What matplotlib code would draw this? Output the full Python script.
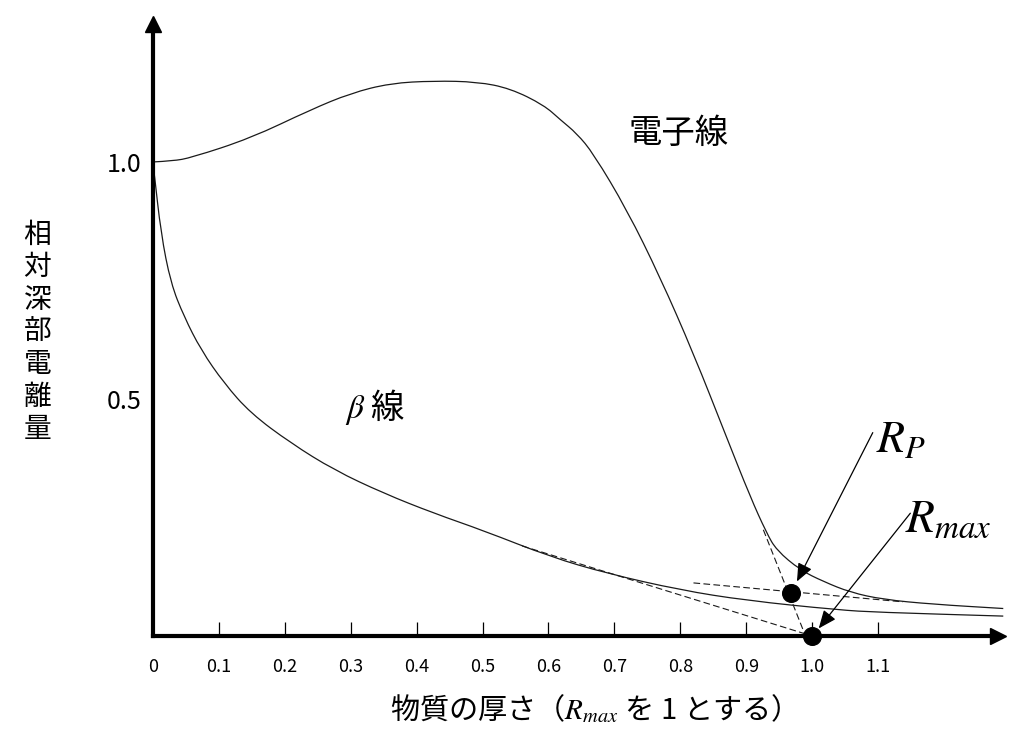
import matplotlib
matplotlib.use("Agg")
import matplotlib.pyplot as plt
from matplotlib.path import Path
from matplotlib.patches import PathPatch

plt.rcParams['font.family'] = ['Noto Sans CJK JP', 'DejaVu Sans']
plt.rcParams['mathtext.fontset'] = 'stix'

# ---- data ----
electron_x = [0.0, 0.030, 0.058, 0.148, 0.239, 0.300, 0.360, 0.426, 0.492, 0.542, 0.593,
              0.618, 0.643, 0.668, 0.719, 0.769, 0.820, 0.870, 0.906, 0.931, 0.946,
              0.982, 1.017, 1.058, 1.108, 1.183, 1.290]
electron_y = [1.000, 1.002, 1.009, 1.050, 1.110, 1.145, 1.166, 1.171, 1.169, 1.155, 1.120,
              1.089, 1.060, 1.018, 0.899, 0.758, 0.596, 0.420, 0.294, 0.217, 0.181,
              0.139, 0.115, 0.092, 0.077, 0.067, 0.058]

beta_x = [0.0, 0.002, 0.012, 0.027, 0.047, 0.073, 0.108, 0.148, 0.209, 0.275,
          0.350, 0.426, 0.502, 0.603, 0.689, 0.800, 0.900, 1.040, 1.100, 1.290]
beta_y = [0.995, 0.976, 0.850, 0.744, 0.674, 0.603, 0.533, 0.470, 0.407, 0.350,
          0.301, 0.259, 0.222, 0.167, 0.132, 0.097, 0.075, 0.055, 0.050, 0.042]

# extrapolation lines (dashed)
beta_tan_x = [0.56, 1.00]
beta_tan_y = [0.19, 0.00]
elec_tan_x = [0.926, 0.990]
elec_tan_y = [0.224, 0.000]
brems_x = [0.82, 1.138]
brems_y = [0.112, 0.072]

# points R_p and R_max
rp_x, rp_y = 0.968, 0.091
rmax_x, rmax_y = 1.0, 0.0

x_ticks = [0.0, 0.1, 0.2, 0.3, 0.4, 0.5, 0.6, 0.7, 0.8, 0.9, 1.0, 1.1]
x_tick_labels = ["0", "0.1", "0.2", "0.3", "0.4", "0.5", "0.6", "0.7", "0.8", "0.9", "1.0", "1.1"]
y_ticks = [0.5, 1.0]
y_tick_labels = ["0.5", "1.0"]


def smooth_curve(ax, xs, ys, **kw):
    # quadratic bezier through the midpoints, read points used as control points
    verts = [(xs[0], ys[0])]
    codes = [Path.MOVETO]
    for i in range(1, len(xs) - 1):
        mid = ((xs[i] + xs[i + 1]) / 2, (ys[i] + ys[i + 1]) / 2)
        verts += [(xs[i], ys[i]), mid]
        codes += [Path.CURVE3, Path.CURVE3]
    verts.append((xs[-1], ys[-1]))
    codes.append(Path.LINETO)
    patch = PathPatch(Path(verts, codes), facecolor='none', clip_on=False, **kw)
    ax.add_patch(patch)


fig = plt.figure(figsize=(10.24, 7.47), dpi=100)
ax = fig.add_axes([0.14941, 0.14859, 0.8252, 0.8193])
ax.set_xlim(0, 1.282)
ax.set_ylim(0, 1.291)

# curves
smooth_curve(ax, electron_x, electron_y, edgecolor='#1a1a1a', lw=0.9)
smooth_curve(ax, beta_x, beta_y, edgecolor='#1a1a1a', lw=0.9)

# dashed extrapolations
for xs, ys in [(beta_tan_x, beta_tan_y), (elec_tan_x, elec_tan_y), (brems_x, brems_y)]:
    ax.plot(xs, ys, color='#1a1a1a', lw=0.8, dashes=(6, 3), clip_on=False)

# dots
ax.plot([rp_x, rmax_x], [rp_y, rmax_y], 'o', color='black', ms=12.7, clip_on=False, zorder=5)

# arrows with labels
ax.annotate("", xy=(0.977, 0.115), xytext=(1.092, 0.429),
            arrowprops=dict(arrowstyle='-|>,head_length=0.55,head_width=0.23',
                            color='black', lw=0.9, mutation_scale=20,
                            shrinkA=0, shrinkB=0))
ax.annotate("", xy=(1.010, 0.016), xytext=(1.149, 0.259),
            arrowprops=dict(arrowstyle='-|>,head_length=0.55,head_width=0.23',
                            color='black', lw=0.9, mutation_scale=20,
                            shrinkA=0, shrinkB=0))
ax.text(1.097, 0.388, r"$R_P$", fontsize=33, ha='left', va='baseline')
ax.text(1.141, 0.219, r"$R_{max}$", fontsize=34, ha='left', va='baseline')

# curve labels
ax.text(0.797, 1.061, "電子線", fontsize=24, ha='center', va='center')
ax.text(0.291, 0.483, r"$\beta$ 線", fontsize=24, ha='left', va='center')

# axes styling
for side in ['top', 'right']:
    ax.spines[side].set_visible(False)
for side in ['left', 'bottom']:
    ax.spines[side].set_linewidth(3)
    ax.spines[side].set_color('black')
ax.plot(1, 0, '>', color='black', ms=11.5, transform=ax.get_yaxis_transform(), clip_on=False)
ax.plot(0, 1, '^', color='black', ms=11.5, transform=ax.get_xaxis_transform(), clip_on=False)

ax.set_xticks(x_ticks)
ax.set_xticklabels(x_tick_labels)
ax.tick_params(axis='x', direction='in', length=10, width=0.9, labelsize=13, pad=16)
ax.set_yticks(y_ticks)
ax.set_yticklabels(y_tick_labels)
ax.tick_params(axis='y', length=0, labelsize=18, pad=8)

ax.set_xlabel(r"物質の厚さ（$R_{max}$ を 1 とする）", fontsize=21, va='center')
ax.xaxis.set_label_coords((586 - 153) / 845, (636 - 710) / 612)
ax.set_ylabel("\n".join("相対深部電離量"), fontsize=20, rotation=0,
              ha='center', va='center', linespacing=1.1)
ax.yaxis.set_label_coords((37.5 - 153) / 845, (636 - 332) / 612)

fig.savefig("out.png", dpi=100, facecolor='white')
